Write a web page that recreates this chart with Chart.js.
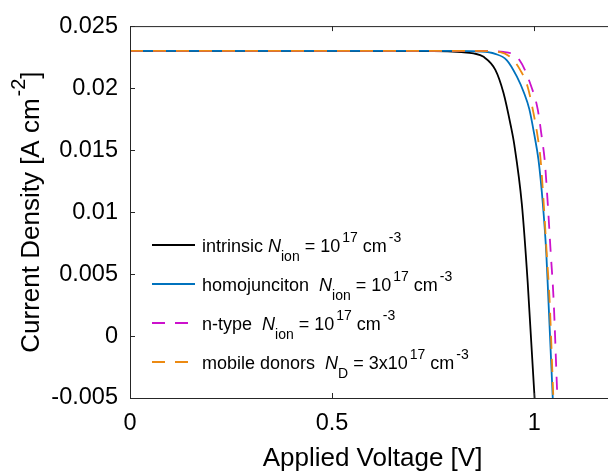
<!DOCTYPE html>
<html>
<head>
<meta charset="utf-8">
<script src="https://cdn.jsdelivr.net/npm/chart.js@4.4.0/dist/chart.umd.min.js"></script>
<style>
  html, body { margin: 0; padding: 0; background: #fff; overflow: hidden; }
  #wrap { width: 620px; height: 476px; }
</style>
</head>
<body>
<div id="wrap"><canvas id="jvChart" width="620" height="476"></canvas></div>
<script>
// J-V curves (voltage in V, current density in A cm^-2)
const intrinsicV = [0, 0.4, 0.75, 0.82, 0.85, 0.875, 0.904, 0.924, 0.942, 0.951, 0.9695, 0.984, 1.001, 1.004];
const intrinsicJ = [0.0230, 0.0230, 0.02298, 0.0229, 0.0228, 0.02252, 0.02147, 0.01962, 0.01698, 0.0154, 0.01065, 0.00432, -0.005, -0.0068];

const homoV = [0, 0.4, 0.8, 0.87, 0.9035, 0.932, 0.957, 0.975, 0.988, 1.0, 1.0107, 1.0215, 1.03, 1.0355, 1.046, 1.049];
const homoJ = [0.0230, 0.0230, 0.0230, 0.02295, 0.02276, 0.02226, 0.02094, 0.0196, 0.0183, 0.0163, 0.0142, 0.01065, 0.00669, 0.00273, -0.005, -0.0072];

const ntypeV = [0, 0.4, 0.87, 0.924, 0.9636, 0.9926, 1.0087, 1.019, 1.026, 1.033, 1.041, 1.048, 1.057, 1.06];
const ntypeJ = [0.0230, 0.0230, 0.0230, 0.02292, 0.02226, 0.02015, 0.0183, 0.0160, 0.0142, 0.0110, 0.00669, 0.0030, -0.0046, -0.0068];

const mobileV = [0, 0.4, 0.85, 0.916, 0.9445, 0.9653, 0.9835, 0.998, 1.009, 1.016, 1.023, 1.031, 1.038, 1.047, 1.05];
const mobileJ = [0.0230, 0.0230, 0.0230, 0.0229, 0.0224, 0.02147, 0.02015, 0.01804, 0.0160, 0.0142, 0.0110, 0.00669, 0.0030, -0.0046, -0.007];

const xTicks = [0, 0.5, 1];
const yTicks = [-0.005, 0, 0.005, 0.01, 0.015, 0.02, 0.025];

// legend text pieces: n = normal, i = italic, sup / sub
const legendLabels = [
  [['intrinsic ', 'n'], ['N', 'i'], ['ion', 'sub'], [' = 10', 'n'], ['17', 'sup'], [' cm', 'n'], ['-3', 'sup']],
  [['homojunciton  ', 'n'], ['N', 'i'], ['ion', 'sub'], [' = 10', 'n'], ['17', 'sup'], [' cm', 'n'], ['-3', 'sup']],
  [['n-type  ', 'n'], ['N', 'i'], ['ion', 'sub'], [' = 10', 'n'], ['17', 'sup'], [' cm', 'n'], ['-3', 'sup']],
  [['mobile donors  ', 'n'], ['N', 'i'], ['D', 'sub'], [' = 3x10', 'n'], ['17', 'sup'], [' cm', 'n'], ['-3', 'sup']]
];
const xTitle = [['Applied Voltage [V]', 'n']];
const yTitle = [['Current Density [A cm', 'n'], ['-2', 'sup'], [']', 'n']];

const FONT = '"Liberation Sans", Arial, Helvetica, sans-serif';
const colors = ['#000000', '#0072BD', '#CC11CC', '#EC8A12'];
const dashes = [[], [], [13, 10], [13, 10]];

function toPoints(v, j) {
  return v.map((x, i) => ({ x: x, y: j[i] }));
}

// draws a line of text with italic / superscript / subscript pieces
function drawRich(ctx, segs, x, y, size, align) {
  const small = Math.round(size * 0.75);
  const fontFor = s => s === 'i' ? `italic ${size}px ${FONT}` :
    (s === 'sup' || s === 'sub') ? `${small}px ${FONT}` : `${size}px ${FONT}`;
  let total = 0;
  segs.forEach(([t, s]) => { ctx.font = fontFor(s); total += ctx.measureText(t).width + (s === 'sup' ? 2 : 0); });
  let cx = align === 'center' ? x - total / 2 : x;
  ctx.textAlign = 'left';
  ctx.textBaseline = 'alphabetic';
  segs.forEach(([t, s]) => {
    ctx.font = fontFor(s);
    let dy = 0;
    if (s === 'sup') { dy = -size * 0.55; cx += 2; }
    if (s === 'sub') dy = size * 0.5;
    ctx.fillText(t, cx, y + dy);
    cx += ctx.measureText(t).width;
  });
}

const framePlugin = {
  id: 'frameAndText',
  afterDraw(chart) {
    const ctx = chart.ctx;
    const a = chart.chartArea;
    const xs = chart.scales.x, ys = chart.scales.y;
    ctx.save();
    ctx.strokeStyle = '#262626';
    ctx.lineWidth = 1;
    ctx.strokeRect(a.left + 0.5, a.top + 0.5, a.right - a.left, a.bottom - a.top);
    ctx.beginPath();
    xTicks.forEach(v => {
      const px = Math.round(xs.getPixelForValue(v)) + 0.5;
      ctx.moveTo(px, a.bottom); ctx.lineTo(px, a.bottom - 5);
      ctx.moveTo(px, a.top); ctx.lineTo(px, a.top + 5);
    });
    yTicks.forEach(v => {
      const py = Math.round(ys.getPixelForValue(v)) + 0.5;
      ctx.moveTo(a.left, py); ctx.lineTo(a.left + 5, py);
      ctx.moveTo(a.right, py); ctx.lineTo(a.right - 5, py);
    });
    ctx.stroke();

    // legend
    ctx.fillStyle = '#000';
    legendLabels.forEach((segs, i) => {
      const rowY = 245 + i * 39;
      ctx.beginPath();
      ctx.strokeStyle = colors[i];
      ctx.lineWidth = 1.8;
      ctx.setLineDash(dashes[i]);
      ctx.moveTo(152, rowY); ctx.lineTo(195, rowY);
      ctx.stroke();
      ctx.setLineDash([]);
      drawRich(ctx, segs, 202, rowY + 6.5, 18, 'left');
    });

    // axis titles
    drawRich(ctx, xTitle, (a.left + a.right) / 2, 466, 26, 'center');
    ctx.translate(39, (a.top + a.bottom) / 2);
    ctx.rotate(-Math.PI / 2);
    drawRich(ctx, yTitle, 0, 0, 26, 'center');
    ctx.restore();
  }
};

const series = [
  toPoints(intrinsicV, intrinsicJ),
  toPoints(homoV, homoJ),
  toPoints(ntypeV, ntypeJ),
  toPoints(mobileV, mobileJ)
];

new Chart(document.getElementById('jvChart').getContext('2d'), {
  type: 'line',
  data: {
    datasets: series.map((pts, i) => ({
      data: pts,
      borderColor: colors[i],
      borderWidth: 1.8,
      borderDash: dashes[i],
      pointRadius: 0,
      fill: false,
      cubicInterpolationMode: 'monotone',
      order: 3 - i
    }))
  },
  options: {
    responsive: false,
    animation: false,
    events: [],
    layout: { padding: { top: 19, right: 5, left: 0, bottom: 0 } },
    plugins: { legend: { display: false }, tooltip: { enabled: false } },
    scales: {
      x: {
        type: 'linear', min: 0, max: 1.2,
        afterBuildTicks: s => { s.ticks = xTicks.map(v => ({ value: v })); },
        afterFit: s => { s.height = 78; },
        grid: { display: false, drawTicks: false },
        border: { display: false },
        ticks: { color: '#000', padding: 11, font: { family: FONT, size: 23.5 },
          callback: v => String(v) }
      },
      y: {
        type: 'linear', min: -0.005, max: 0.025,
        afterBuildTicks: s => { s.ticks = yTicks.map(v => ({ value: v })); },
        afterFit: s => { s.width = 130; },
        grid: { display: false, drawTicks: false },
        border: { display: false },
        ticks: { color: '#000', padding: 12, font: { family: FONT, size: 23.5 },
          callback: v => String(Number(v.toFixed(3))) }
      }
    }
  },
  plugins: [framePlugin]
});
</script>
</body>
</html>
